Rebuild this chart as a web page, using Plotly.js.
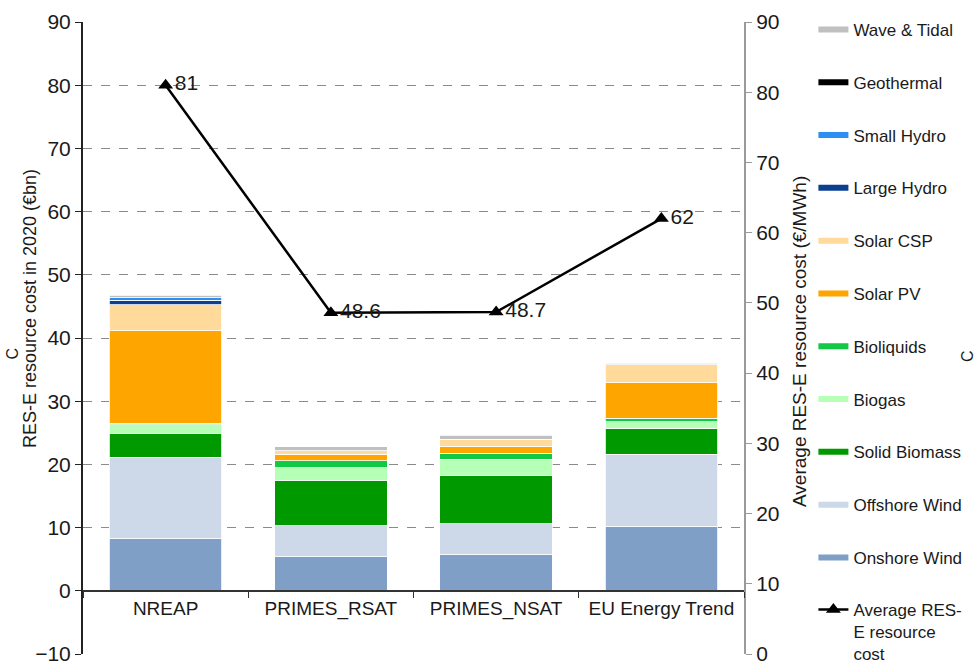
<!DOCTYPE html>
<html>
<head>
<meta charset="utf-8">
<script src="https://cdn.plot.ly/plotly-3.0.1.min.js"></script>
<style>
  html, body { margin: 0; padding: 0; background: #fff; }
  #chart { width: 978px; height: 664px; }
</style>
</head>
<body>
<div id="chart"></div>
<script>
// Scenarios compared
const categories = ['NREAP', 'PRIMES_RSAT', 'PRIMES_NSAT', 'EU Energy Trend'];

// RES-E resource cost in 2020 by technology (€bn), stacked bottom to top
const onshoreWind   = [8.2, 5.35, 5.7, 10.2];
const offshoreWind  = [12.9, 4.95, 4.9, 11.4];
const solidBiomass  = [3.75, 7.1, 7.6, 4.1];
const biogas        = [1.45, 2.1, 2.6, 1.05];
const bioliquids    = [0.1, 1.05, 1.0, 0.55];
const solarPV       = [14.75, 1.05, 1.1, 5.6];
const solarCSP      = [4.15, 0.6, 1.1, 2.9];
const largeHydro    = [0.7, 0, 0, 0];
const smallHydro    = [0.35, 0, 0, 0];
const geothermal    = [0, 0, 0, 0];
const waveTidal     = [0.4, 0.6, 0.65, 0.2];

// Average RES-E resource cost (€/MWh), right axis
const avgCost = [81, 48.6, 48.7, 62];
const avgCostLabels = ['81', '48.6', '48.7', '62'];

const FONT = '"Liberation Sans", Arial, sans-serif';

const series = [
  { name: 'Onshore Wind',  values: onshoreWind,  color: '#7f9fc6', rank: 11 },
  { name: 'Offshore Wind', values: offshoreWind, color: '#cdd9e8', rank: 10 },
  { name: 'Solid Biomass', values: solidBiomass, color: '#009900', rank: 9 },
  { name: 'Biogas',        values: biogas,       color: '#b6ffb6', rank: 8 },
  { name: 'Bioliquids',    values: bioliquids,   color: '#11c944', rank: 7 },
  { name: 'Solar PV',      values: solarPV,      color: '#ffa500', rank: 6 },
  { name: 'Solar CSP',     values: solarCSP,     color: '#ffda9a', rank: 5 },
  { name: 'Large Hydro',   values: largeHydro,   color: '#0b3f8f', rank: 4 },
  { name: 'Small Hydro',   values: smallHydro,   color: '#2e8ff2', rank: 3 },
  { name: 'Geothermal',    values: geothermal,   color: '#000000', rank: 2 },
  { name: 'Wave & Tidal',  values: waveTidal,    color: '#c0c0c0', rank: 1 }
];

const traces = [];
series.forEach(s => {
  // stacked bar segment
  traces.push({
    type: 'bar',
    name: s.name,
    x: categories,
    y: s.values,
    width: 0.68,
    marker: { color: s.color, line: { color: '#ffffff', width: 0.8 } },
    legendgroup: s.name,
    showlegend: false,
    hoverinfo: 'name+y'
  });
  // legend key drawn as a thick short line
  traces.push({
    type: 'scatter',
    mode: 'lines',
    name: s.name,
    x: [null],
    y: [null],
    line: { color: s.color, width: 6 },
    legendgroup: s.name,
    legendrank: s.rank,
    showlegend: true,
    hoverinfo: 'skip'
  });
});

traces.push({
  type: 'scatter',
  mode: 'lines+markers+text',
  name: 'Average RES-<br>E resource<br>cost',
  x: categories,
  y: avgCost,
  yaxis: 'y2',
  text: avgCostLabels,
  textposition: 'middle right',
  textfont: { family: FONT, size: 21, color: '#1a1a1a' },
  line: { color: '#000000', width: 2.5 },
  marker: { symbol: 'triangle-up', size: 13, color: '#000000' },
  legend: 'legend2',
  cliponaxis: false
});

const legendFont = { family: FONT, size: 17, color: '#1a1a1a' };

const layout = {
  width: 978,
  height: 664,
  margin: { l: 83, r: 234, t: 22, b: 10, autoexpand: false },
  paper_bgcolor: '#ffffff',
  plot_bgcolor: '#ffffff',
  barmode: 'stack',
  font: { family: FONT, size: 17, color: '#1a1a1a' },
  showlegend: true,
  legend: {
    x: 1.105,
    xanchor: 'left',
    y: 1.016,
    yanchor: 'top',
    traceorder: 'grouped',
    tracegroupgap: 27.7,
    valign: 'top',
    maxheight: 1000,
    font: legendFont,
    bgcolor: 'rgba(0,0,0,0)'
  },
  legend2: {
    x: 1.105,
    xanchor: 'left',
    y: 0.098,
    yanchor: 'top',
    valign: 'top',
    maxheight: 1000,
    font: legendFont,
    bgcolor: 'rgba(0,0,0,0)'
  },
  xaxis: {
    type: 'category',
    anchor: 'free',
    position: 0.1,
    showline: true,
    linecolor: '#333333',
    linewidth: 2,
    ticks: 'outside',
    tickson: 'boundaries',
    ticklen: 6,
    tickcolor: '#333333',
    tickfont: { family: FONT, size: 19, color: '#1a1a1a' },
    showgrid: false,
    zeroline: false
  },
  yaxis: {
    range: [-10, 90],
    dtick: 10,
    tick0: 0,
    showline: true,
    linecolor: '#222222',
    linewidth: 2,
    ticks: 'outside',
    ticklen: 6,
    tickcolor: '#222222',
    tickfont: { family: FONT, size: 21, color: '#1a1a1a' },
    ticklabeloverflow: 'allow',
    showgrid: true,
    gridcolor: '#8a8a8a',
    griddash: 'dash',
    gridwidth: 1,
    zeroline: false
  },
  yaxis2: {
    overlaying: 'y',
    side: 'right',
    anchor: 'x',
    range: [0, 90],
    dtick: 10,
    showline: true,
    linecolor: '#9a9a9a',
    linewidth: 2,
    ticks: 'outside',
    ticklen: 6,
    tickcolor: '#9a9a9a',
    tickfont: { family: FONT, size: 21, color: '#1a1a1a' },
    ticklabeloverflow: 'allow',
    showgrid: false,
    zeroline: false
  },
  annotations: [
    {
      text: 'RES-E resource cost in 2020 (€bn)',
      xref: 'paper', yref: 'paper',
      x: -0.080, y: 0.546,
      xanchor: 'center', yanchor: 'middle',
      textangle: -90,
      showarrow: false,
      font: { family: FONT, size: 18, color: '#1a1a1a' }
    },
    {
      text: 'C',
      xref: 'paper', yref: 'paper',
      x: -0.107, y: 0.476,
      xanchor: 'center', yanchor: 'middle',
      textangle: -90,
      showarrow: false,
      font: { family: FONT, size: 16, color: '#1a1a1a' }
    },
    {
      text: 'Average RES-E resource cost (€/MWh)',
      xref: 'paper', yref: 'paper',
      x: 1.085, y: 0.494,
      xanchor: 'center', yanchor: 'middle',
      textangle: -90,
      showarrow: false,
      font: { family: FONT, size: 19, color: '#1a1a1a' }
    },
    {
      text: 'C',
      xref: 'paper', yref: 'paper',
      x: 1.338, y: 0.472,
      xanchor: 'center', yanchor: 'middle',
      textangle: -90,
      showarrow: false,
      font: { family: FONT, size: 16, color: '#1a1a1a' }
    }
  ]
};

Plotly.newPlot('chart', traces, layout, { displayModeBar: false, staticPlot: true });
</script>
</body>
</html>
